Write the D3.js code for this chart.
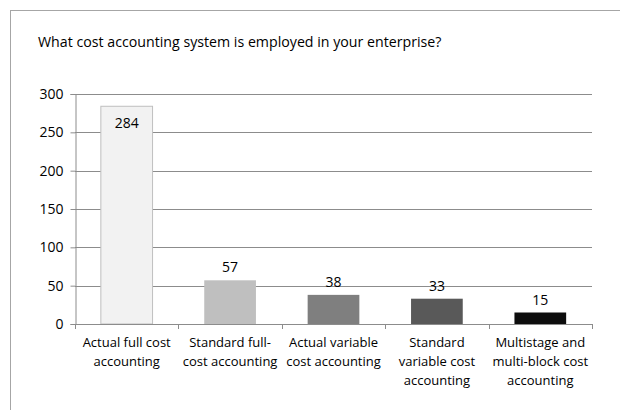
<!DOCTYPE html>
<html>
<head>
<meta charset="utf-8">
<script src="https://cdn.jsdelivr.net/npm/d3@7"></script>
<style>
  html, body { margin: 0; padding: 0; background: #fff; }
  svg text { font-family: "Open Sans", "Noto Sans", sans-serif; fill: #000; }
</style>
</head>
<body>
<svg id="chart" width="620" height="410"></svg>
<script>
// Survey responses: cost accounting systems in use
const categories = [
  ["Actual full cost", "accounting"],
  ["Standard full-", "cost accounting"],
  ["Actual variable", "cost accounting"],
  ["Standard", "variable cost", "accounting"],
  ["Multistage and", "multi-block cost", "accounting"]
];
const values = [284, 57, 38, 33, 15];
const barColors = ["#f2f2f2", "#bfbfbf", "#7f7f7f", "#595959", "#0d0d0d"];
const yTicks = [0, 50, 100, 150, 200, 250, 300];
const title = "What cost accounting system is employed in your enterprise?";

const svg = d3.select("#chart");

// outer frame
svg.append("rect")
  .attr("x", 10.5).attr("y", 10.5)
  .attr("width", 620).attr("height", 410)
  .attr("fill", "none").attr("stroke", "#a6a6a6");

svg.append("text")
  .attr("x", 38).attr("y", 47)
  .style("font-size", "14.2px")
  .text(title);

const plotLeft = 75, plotRight = 592, plotTop = 94, plotBottom = 324;

const x = d3.scaleBand()
  .domain(d3.range(values.length))
  .range([plotLeft, plotRight])
  .paddingInner(0.5).paddingOuter(0.25);

const y = d3.scaleLinear().domain([0, 300]).range([plotBottom, plotTop]);

// horizontal gridlines
svg.append("g")
  .selectAll("line")
  .data(yTicks.filter(d => d > 0))
  .join("line")
  .attr("x1", plotLeft).attr("x2", plotRight)
  .attr("y1", d => Math.round(y(d)) + 0.5)
  .attr("y2", d => Math.round(y(d)) + 0.5)
  .attr("stroke", "#8c8c8c");

// y axis
const yAxis = svg.append("g")
  .attr("transform", `translate(${plotLeft + 0.5},0)`)
  .call(d3.axisLeft(y).tickValues(yTicks).tickSize(5).tickPadding(7));
yAxis.select(".domain").attr("stroke", "#8c8c8c");
yAxis.selectAll(".tick line").attr("stroke", "#8c8c8c");
yAxis.selectAll(".tick text")
  .style("font-size", "14px")
  .style("font-family", "'Open Sans', 'Noto Sans', sans-serif");

// bars
svg.append("g")
  .selectAll("rect")
  .data(values)
  .join("rect")
  .attr("x", (d, i) => x(i))
  .attr("y", d => y(d))
  .attr("width", x.bandwidth())
  .attr("height", d => plotBottom - y(d))
  .attr("fill", (d, i) => barColors[i])
  .attr("stroke", (d, i) => i === 0 ? "#bfbfbf" : "none");

// x axis baseline and category separators
const xAxisG = svg.append("g");
xAxisG.append("line")
  .attr("x1", plotLeft).attr("x2", plotRight)
  .attr("y1", plotBottom + 0.5).attr("y2", plotBottom + 0.5)
  .attr("stroke", "#8c8c8c");
xAxisG.selectAll("line.sep")
  .data(d3.range(values.length + 1))
  .join("line")
  .attr("class", "sep")
  .attr("x1", i => Math.round(plotLeft + i * (plotRight - plotLeft) / values.length) + 0.5)
  .attr("x2", i => Math.round(plotLeft + i * (plotRight - plotLeft) / values.length) + 0.5)
  .attr("y1", plotBottom).attr("y2", plotBottom + 5)
  .attr("stroke", "#8c8c8c");

// value labels
svg.append("g")
  .selectAll("text")
  .data(values)
  .join("text")
  .attr("x", (d, i) => x(i) + x.bandwidth() / 2)
  .attr("y", (d, i) => i === 0 ? y(d) + 22 : y(d) - 8)
  .attr("text-anchor", "middle")
  .style("font-size", "14px")
  .text(d => d);

// category labels
svg.append("g")
  .selectAll("text")
  .data(categories)
  .join("text")
  .attr("x", (d, i) => x(i) + x.bandwidth() / 2)
  .attr("y", 347)
  .attr("text-anchor", "middle")
  .style("font-size", "13px")
  .selectAll("tspan")
  .data(d => d)
  .join("tspan")
  .attr("x", function() { return d3.select(this.parentNode).attr("x"); })
  .attr("dy", (d, j) => j === 0 ? 0 : 19)
  .text(d => d);
</script>
</body>
</html>
